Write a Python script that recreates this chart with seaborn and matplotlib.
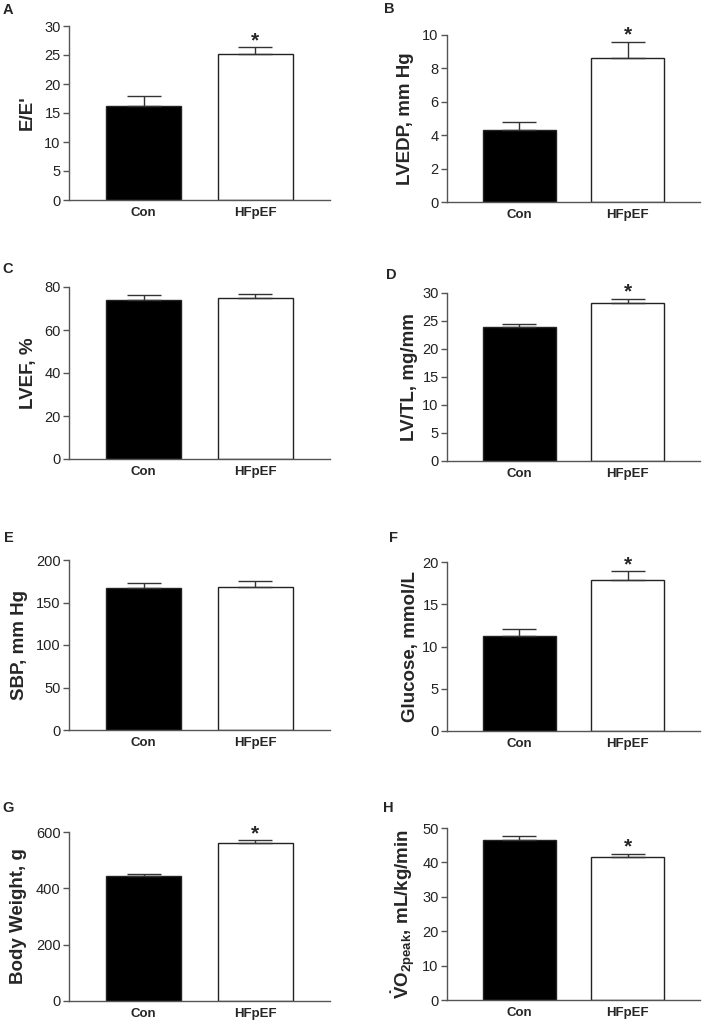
import numpy as np
import pandas as pd
import matplotlib
matplotlib.use('Agg')
import matplotlib.pyplot as plt
import seaborn as sns

# data (mean and upper SEM for Con / HFpEF)
groups = ['Con', 'HFpEF']
letters = ['A', 'B', 'C', 'D', 'E', 'F', 'G', 'H']
ylabels = ["E/E'", 'LVEDP, mm Hg', 'LVEF, %', 'LV/TL, mg/mm',
           'SBP, mm Hg', 'Glucose, mmol/L', 'Body Weight, g',
           r'$\mathbf{\dot{V}O_{2peak}}$, mL/kg/min']
ee_mean = [16.2, 25.2]
ee_sem = [1.7, 1.1]
lvedp_mean = [4.3, 8.6]
lvedp_sem = [0.5, 1.0]
lvef_mean = [74.1, 75.1]
lvef_sem = [2.4, 1.6]
lvtl_mean = [24.0, 28.2]
lvtl_sem = [0.4, 0.7]
sbp_mean = [167, 168]
sbp_sem = [6, 7]
glu_mean = [11.3, 17.9]
glu_sem = [0.8, 1.0]
bw_mean = [444, 561]
bw_sem = [7, 9]
vo2_mean = [46.5, 41.7]
vo2_sem = [1.3, 0.7]
means = [ee_mean, lvedp_mean, lvef_mean, lvtl_mean, sbp_mean, glu_mean, bw_mean, vo2_mean]
sems = [ee_sem, lvedp_sem, lvef_sem, lvtl_sem, sbp_sem, glu_sem, bw_sem, vo2_sem]
signif = [True, True, False, True, False, True, True, True]
ymax = [30, 10, 80, 30, 200, 20, 600, 50]
ystep = [5, 2, 20, 5, 50, 5, 200, 10]

# layout in pixels (left, right, top, bottom) of each axes
W, H = 709, 1024
boxes = [(69, 330, 26, 200), (447, 700, 35, 202),
         (69, 330, 287, 459), (447, 700, 293, 461),
         (69, 330, 560, 730), (447, 700, 562, 731),
         (69, 330, 832, 1001), (447, 700, 828, 1000)]
letter_pos = [(3, 10), (384, 9), (2, 269), (386, 275),
              (4, 538), (389, 538), (2, 808), (383, 808)]
label_x = [27, 406, 28, 409, 20, 410, 19, 403]

sns.set_style('white')
plt.rcParams['font.family'] = ['Liberation Sans', 'DejaVu Sans']
plt.rcParams['mathtext.fontset'] = 'custom'
plt.rcParams['mathtext.rm'] = 'Liberation Sans'
plt.rcParams['mathtext.bf'] = 'Liberation Sans:bold'
plt.rcParams['mathtext.it'] = 'Liberation Sans:italic'

fig = plt.figure(figsize=(W / 100, H / 100), dpi=100)
fig.patch.set_facecolor('white')

for i in range(8):
    x0, x1, t, b = boxes[i]
    ax = fig.add_axes([x0 / W, 1 - b / H, (x1 - x0) / W, (b - t) / H])
    df = pd.DataFrame({'group': groups, 'value': means[i]})
    sns.barplot(data=df, x='group', y='value', hue='group', palette=['black', 'white'],
                edgecolor='#222222', linewidth=1, width=0.67, errorbar=None,
                legend=False, ax=ax)
    ax.errorbar([0, 1], means[i], yerr=[[0, 0], sems[i]], fmt='none',
                ecolor='#333333', elinewidth=1, capsize=12.5, capthick=1)
    if signif[i]:
        ax.annotate('*', xy=(1, means[i][1] + sems[i][1]), xytext=(0, 1),
                    textcoords='offset points', ha='center', va='baseline',
                    fontsize=15, fontweight='bold', annotation_clip=False)
    ax.set_xlim(-0.67, 1.67)
    ax.set_ylim(0, ymax[i])
    ax.set_yticks(np.arange(0, ymax[i] + 0.001, ystep[i]))
    ax.set_xlabel('')
    ax.set_ylabel(ylabels[i], fontsize=13.5, fontweight='bold')
    ax.yaxis.label.set_va('center')
    ax.yaxis.set_label_coords((label_x[i] - x0) / (x1 - x0), 0.5)
    sns.despine(ax=ax)
    for s in ['left', 'bottom']:
        ax.spines[s].set_color('#555555')
        ax.spines[s].set_linewidth(1)
    ax.tick_params(axis='y', direction='out', length=4, width=1, color='#555555',
                   labelsize=10.5, labelcolor='#222222', pad=2, left=True)
    ax.tick_params(axis='x', length=0, labelsize=9.5, pad=5)
    for lab in ax.get_xticklabels():
        lab.set_fontweight('bold')
    ax.set_facecolor('white')
    lx, ly = letter_pos[i]
    fig.text(lx / W, 1 - ly / H, letters[i], fontsize=10.5, fontweight='bold',
             ha='left', va='center')

fig.savefig('out.png', dpi=100, facecolor='white')
